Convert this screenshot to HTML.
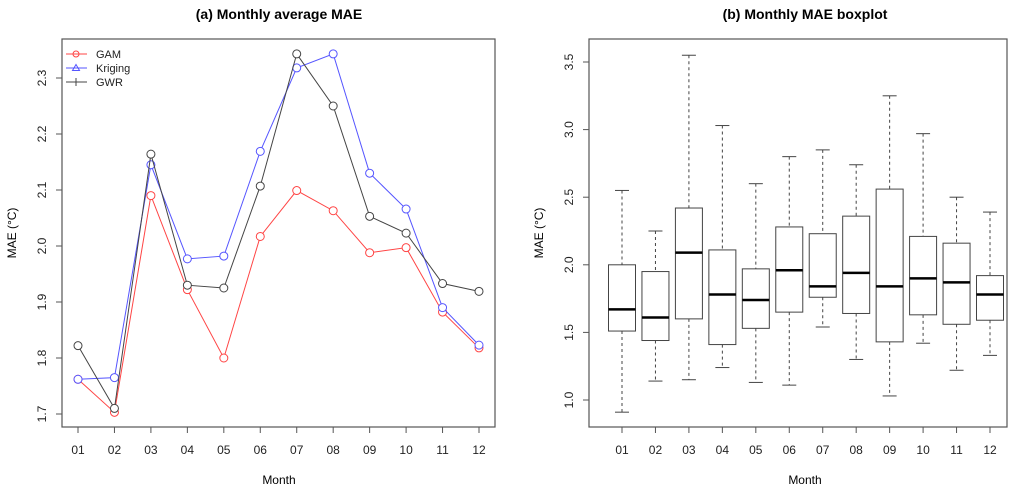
<!DOCTYPE html>
<html><head><meta charset="utf-8"><style>
body{margin:0;background:#fff;}
svg text{font-family:"Liberation Sans",sans-serif;}
</style></head><body>
<svg id="c" width="1024" height="488"></svg>
<script>
const months=["01","02","03","04","05","06","07","08","09","10","11","12"];
const gam=[1.762,1.703,2.09,1.922,1.80,2.017,2.099,2.063,1.988,1.997,1.882,1.818];
const kriging=[1.762,1.765,2.145,1.977,1.982,2.169,2.318,2.343,2.13,2.066,1.89,1.823];
const gwr=[1.822,1.71,2.164,1.93,1.925,2.107,2.343,2.25,2.053,2.023,1.933,1.919];
const leftTicks=[1.7,1.8,1.9,2.0,2.1,2.2,2.3];
const boxMin=[0.91,1.14,1.15,1.24,1.13,1.11,1.54,1.30,1.03,1.42,1.22,1.33];
const boxQ1=[1.51,1.44,1.60,1.41,1.53,1.65,1.76,1.64,1.43,1.63,1.56,1.59];
const boxMed=[1.67,1.61,2.09,1.78,1.74,1.96,1.84,1.94,1.84,1.90,1.87,1.78];
const boxQ3=[2.00,1.95,2.42,2.11,1.97,2.28,2.23,2.36,2.56,2.21,2.16,1.92];
const boxMax=[2.55,2.25,3.55,3.03,2.60,2.80,2.85,2.74,3.25,2.97,2.50,2.39];
const rightTicks=[1.0,1.5,2.0,2.5,3.0,3.5];

const svg=document.getElementById('c');const NS="http://www.w3.org/2000/svg";
function el(t,a,p){const e=document.createElementNS(NS,t);for(const k in a)e.setAttribute(k,a[k]);(p||svg).appendChild(e);return e;}
function txt(s,a,p){const e=el('text',a,p);e.textContent=s;return e;}

// LEFT
const lx=i=>78+i*(479-78)/11;
const ly=v=>414-(v-1.7)*(414-78)/0.6;
const L=el('g',{});
const t1=txt("(a) Monthly average MAE",{x:279,y:19,'text-anchor':'middle','font-size':14,'font-weight':'bold'},L);

el('rect',{x:62,y:39,width:433,height:388,fill:'none',stroke:'#555','stroke-width':1.2},L);
leftTicks.forEach(v=>{el('line',{x1:56,x2:62,y1:ly(v),y2:ly(v),stroke:'#555'},L);
 const t=txt(v.toFixed(1),{x:0,y:0,'font-size':12,'text-anchor':'middle',fill:'#222',transform:`translate(46,${ly(v)}) rotate(-90)`},L);
 });
months.forEach((m,i)=>{el('line',{x1:lx(i),x2:lx(i),y1:427,y2:433,stroke:'#555'},L);
 const t=txt(m,{x:lx(i),y:454,'font-size':12,'text-anchor':'middle',fill:'#222'},L);
 });
let a=txt("MAE (°C)",{x:0,y:0,'font-size':12,'text-anchor':'middle',transform:'translate(16,233) rotate(-90)'},L);

a=txt("Month",{x:279,y:484,'font-size':12,'text-anchor':'middle'},L);

function series(vals,col,name){const g=el('g',{},L);
 el('polyline',{points:vals.map((v,i)=>lx(i)+','+ly(v)).join(' '),fill:'none',stroke:col,'stroke-width':1},g);
 vals.forEach((v,i)=>{const c=el('circle',{cx:lx(i),cy:ly(v),r:4,fill:'#fff',stroke:col,'stroke-width':1},g);
  });}
series(gam,'#ff4444','gam-series');series(kriging,'#5555ff','kriging-series');series(gwr,'#444','gwr-series');
const lg=el('g',{},L);
[["GAM","#ff4444"],["Kriging","#5555ff"],["GWR","#444"]].forEach((d,i)=>{const y=54+i*14;
 el('line',{x1:66,x2:87,y1:y,y2:y,stroke:d[1]},lg);
 if(i==0)el('circle',{cx:76,cy:y,r:3,fill:'none',stroke:d[1]},lg);
 if(i==1)el('path',{d:`M76,${y-3.5} L79.5,${y+2.5} L72.5,${y+2.5}Z`,fill:'none',stroke:d[1]},lg);
 if(i==2)el('line',{x1:76,x2:76,y1:y-4,y2:y+4,stroke:d[1]},lg);
 const t=txt(d[0],{x:96,y:y+4,'font-size':11,fill:'#222'},lg);
 });

// RIGHT
const rx=i=>622+i*(990-622)/11;
const ry=v=>400-(v-1.0)*(400-62)/2.5;
const R=el('g',{});
a=txt("(b) Monthly MAE boxplot",{x:805,y:19,'text-anchor':'middle','font-size':14,'font-weight':'bold'},R);

el('rect',{x:589,y:39,width:418,height:388,fill:'none',stroke:'#555','stroke-width':1.2},R);
rightTicks.forEach(v=>{el('line',{x1:583,x2:589,y1:ry(v),y2:ry(v),stroke:'#555'},R);
 const t=txt(v.toFixed(1),{x:0,y:0,'font-size':12,'text-anchor':'middle',fill:'#222',transform:`translate(573,${ry(v)}) rotate(-90)`},R);
 });
months.forEach((m,i)=>{el('line',{x1:rx(i),x2:rx(i),y1:427,y2:433,stroke:'#555'},R);
 const t=txt(m,{x:rx(i),y:454,'font-size':12,'text-anchor':'middle',fill:'#222'},R);
 });
a=txt("MAE (°C)",{x:0,y:0,'font-size':12,'text-anchor':'middle',transform:'translate(543,233) rotate(-90)'},R);

a=txt("Month",{x:805,y:484,'font-size':12,'text-anchor':'middle'},R);

const bw=27;
months.forEach((m,i)=>{const g=el('g',{},R);
 const x=rx(i);
 el('line',{x1:x,x2:x,y1:ry(boxMax[i]),y2:ry(boxQ3[i]),stroke:'#444','stroke-dasharray':'3,3'},g);
 el('line',{x1:x,x2:x,y1:ry(boxQ1[i]),y2:ry(boxMin[i]),stroke:'#444','stroke-dasharray':'3,3'},g);
 el('line',{x1:x-7,x2:x+7,y1:ry(boxMax[i]),y2:ry(boxMax[i]),stroke:'#444'},g);
 el('line',{x1:x-7,x2:x+7,y1:ry(boxMin[i]),y2:ry(boxMin[i]),stroke:'#444'},g);
 el('rect',{x:x-bw/2,y:ry(boxQ3[i]),width:bw,height:ry(boxQ1[i])-ry(boxQ3[i]),fill:'#fff',stroke:'#444','stroke-width':1},g);
 el('line',{x1:x-bw/2,x2:x+bw/2,y1:ry(boxMed[i]),y2:ry(boxMed[i]),stroke:'#000','stroke-width':2.5},g);});
</script>
</body></html>
